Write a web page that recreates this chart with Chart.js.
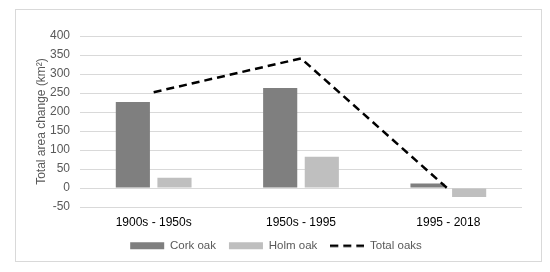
<!DOCTYPE html>
<html>
<head>
<meta charset="utf-8">
<script src="https://cdn.jsdelivr.net/npm/chart.js@4"></script>
<style>
    body { margin: 0; background: #fff; }
    #frame { position: absolute; left: 15px; top: 9px; width: 527px; height: 253px; border: 1px solid #d9d9d9; box-sizing: border-box; }
    #myChart { position: absolute; left: 0; top: 0; }
</style>
</head>
<body>
<div id="frame"></div>
<canvas id="myChart" width="550" height="272"></canvas>
<script>
var categories = ['1900s - 1950s', '1950s - 1995', '1995 - 2018']
var cork_oak = [226, 263, 12]
var holm_oak = [27, 82, -24]
var total_oaks = [252, 341, -3]
var y_ticks = [-50, 0, 50, 100, 150, 200, 250, 300, 350, 400]

Chart.defaults.font.family = "'Liberation Sans', Arial, sans-serif";

// small dashed line image used as the legend symbol of the total line
function dashedSymbol() {
    var c = document.createElement('canvas');
    c.width = 34;
    c.height = 4;
    var g = c.getContext('2d');
    g.strokeStyle = '#000000';
    g.lineWidth = 2.5;
    g.setLineDash([8, 5]);
    g.beginPath();
    g.moveTo(0, 2);
    g.lineTo(34, 2);
    g.stroke();
    return c;
}

// keep the legend box at a fixed height so the plot area lands where we want
var fixedLegend = {
    id: 'fixedLegend',
    beforeLayout: function(chart) {
        var lg = chart.legend;
        if (lg && !lg._fixed) {
            var fit = lg.fit.bind(lg);
            lg.fit = function() {
                fit();
                this.height = 35;
            };
            lg._fixed = true;
        }
    }
};

function initialiseChart() {
    const ctx = document.getElementById('myChart');
    const myChart = new Chart(ctx, {
        type: 'bar',
        data: {
            labels: categories,
            datasets: [{
                type: 'line',
                label: 'Total oaks',
                data: total_oaks,
                borderColor: '#000000',
                backgroundColor: '#000000',
                borderWidth: 2.5,
                borderDash: [8, 5],
                pointRadius: 0,
                pointStyle: dashedSymbol(),
                fill: false,
                order: 0
            }, {
                label: 'Cork oak',
                data: cork_oak,
                backgroundColor: '#7f7f7f',
                borderWidth: 0,
                pointStyle: 'rect',
                categoryPercentage: 0.565,
                barPercentage: 0.82,
                order: 1
            }, {
                label: 'Holm oak',
                data: holm_oak,
                backgroundColor: '#bfbfbf',
                borderWidth: 0,
                pointStyle: 'rect',
                categoryPercentage: 0.565,
                barPercentage: 0.82,
                order: 2
            }]
        },
        options: {
            responsive: false,
            animation: false,
            layout: {
                padding: { left: 30, right: 28, top: 36, bottom: 10 }
            },
            scales: {
                x: {
                    grid: { display: false, drawTicks: false },
                    border: { display: false },
                    ticks: { color: '#000000', font: { size: 12 }, padding: 8 },
                    afterFit: function(axis) {
                        axis.height = 20;
                    }
                },
                y: {
                    min: -50,
                    max: 400,
                    afterBuildTicks: function(axis) {
                        axis.ticks = y_ticks.map(v => ({ value: v }));
                    },
                    afterFit: function(axis) {
                        axis.width = 50;
                    },
                    grid: { color: '#d9d9d9', drawTicks: false },
                    border: { display: false },
                    ticks: { color: '#595959', font: { size: 12 }, padding: 10 },
                    title: {
                        display: true,
                        text: 'Total area change (km²)',
                        color: '#595959',
                        font: { size: 12 },
                        padding: { top: 4, bottom: 0 }
                    }
                }
            },
            plugins: {
                legend: {
                    position: 'bottom',
                    labels: {
                        usePointStyle: true,
                        pointStyleWidth: 34,
                        boxHeight: 7,
                        color: '#595959',
                        font: { size: 11.5 },
                        padding: 13,
                        sort: function(a, b) {
                            return [1, 2, 0].indexOf(a.datasetIndex) - [1, 2, 0].indexOf(b.datasetIndex);
                        }
                    }
                },
                tooltip: { enabled: false }
            }
        },
        plugins: [fixedLegend]
    });
}

initialiseChart();
</script>
</body>
</html>
